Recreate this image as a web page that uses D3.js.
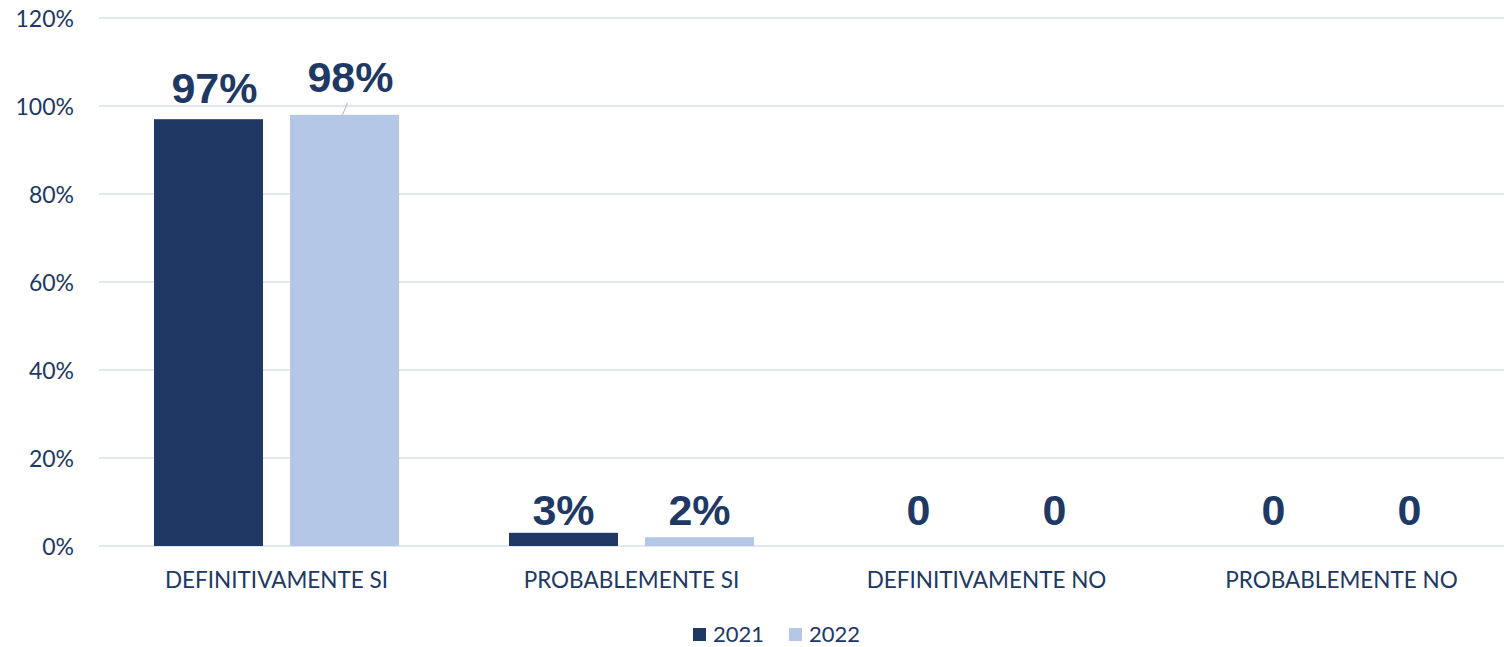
<!DOCTYPE html>
<html><head><meta charset="utf-8">
<script src="https://cdn.jsdelivr.net/npm/d3@7"></script>
<style>
html,body{margin:0;padding:0;background:#fff;}
svg{display:block;}
</style></head>
<body><svg id="c" width="1504" height="647"></svg>
<script>
const categories = ["DEFINITIVAMENTE SI", "PROBABLEMENTE SI", "DEFINITIVAMENTE NO", "PROBABLEMENTE NO"];
const seriesNames = ["2021", "2022"];
const values2021 = [0.97, 0.03, 0, 0];
const values2022 = [0.98, 0.02, 0, 0];
const labels2021 = ["97%", "3%", "0", "0"];
const labels2022 = ["98%", "2%", "0", "0"];
const yTicks = [0, 0.2, 0.4, 0.6, 0.8, 1.0, 1.2];
const colors = ["#203864", "#b4c7e7"];
const textColor = "#203864";

const svg = d3.select("#c");
const x = d3.scaleBand().domain(categories).range([99, 1519]).paddingInner(0).paddingOuter(0);
const y = d3.scaleLinear().domain([0, 1.2]).range([546, 18]);
const barW = 109, barOff = 68;

// gridlines
svg.append("g").selectAll("line").data(yTicks).join("line")
  .attr("x1", 99).attr("x2", 1504)
  .attr("y1", d => y(d)).attr("y2", d => y(d))
  .attr("stroke", "#d9dee8").attr("stroke-width", 1.5);

// y axis labels
const yAxis = d3.axisLeft(y).tickValues(yTicks).tickFormat(d => Math.round(d * 100) + "%").tickSize(0).tickPadding(0);
const ga = svg.append("g").attr("transform", "translate(74,0)").call(yAxis);
ga.select(".domain").remove();
ga.selectAll("text").attr("font-family", "Lato, 'Open Sans', sans-serif").attr("font-size", 23).attr("fill", textColor).attr("dy", "0.35em");

// x axis labels
const xAxis = d3.axisBottom(x).tickSize(0).tickPadding(0);
const gx = svg.append("g").attr("transform", "translate(0,588)").call(xAxis);
gx.select(".domain").remove();
gx.selectAll("text").attr("font-family", "Lato, 'Open Sans', sans-serif").attr("font-size", 22.5).attr("fill", textColor).attr("dy", "0");

const series = [values2021, values2022];
const seriesLabels = [labels2021, labels2022];
series.forEach((vals, si) => {
  const off = si === 0 ? -barOff : barOff;
  svg.append("g").selectAll("rect").data(categories).join("rect")
    .attr("x", (c) => x(c) + x.bandwidth() / 2 + off - barW / 2)
    .attr("width", barW)
    .attr("y", (c, i) => y(vals[i]))
    .attr("height", (c, i) => y(0) - y(vals[i]))
    .attr("fill", colors[si]);
});

// data labels
series.forEach((vals, si) => {
  const off = si === 0 ? -barOff : barOff;
  svg.append("g").selectAll("text").data(categories).join("text")
    .attr("x", (c, i) => x(c) + x.bandwidth() / 2 + off + (i === 0 ? 6 : 0))
    .attr("y", (c, i) => {
      if (i === 0 && si === 1) return y(vals[i]) - 23;
      if (i === 0) return y(vals[i]) - 16;
      return 525;
    })
    .attr("text-anchor", "middle")
    .attr("font-family", "'Liberation Sans', Arial, sans-serif")
    .attr("font-weight", "bold")
    .attr("font-size", 43)
    .attr("fill", textColor)
    .text((c, i) => seriesLabels[si][i]);
});

// leader line for 98%
const c0 = categories[0];
const lx = x(c0) + x.bandwidth() / 2 + barOff;
svg.append("line")
  .attr("x1", lx - 2).attr("y1", y(values2022[0]))
  .attr("x2", lx + 3).attr("y2", y(values2022[0]) - 12)
  .attr("stroke", "#a9b6c9").attr("stroke-width", 1);

// legend
const lg = svg.append("g");
const legendX = [693, 789];
seriesNames.forEach((n, i) => {
  lg.append("rect").attr("x", legendX[i]).attr("y", 628).attr("width", 13).attr("height", 13).attr("fill", colors[i]);
  lg.append("text").attr("x", legendX[i] + 20).attr("y", 642)
    .attr("font-family", "Lato, 'Open Sans', sans-serif").attr("font-size", 22).attr("fill", textColor).text(n);
});
</script></body></html>
